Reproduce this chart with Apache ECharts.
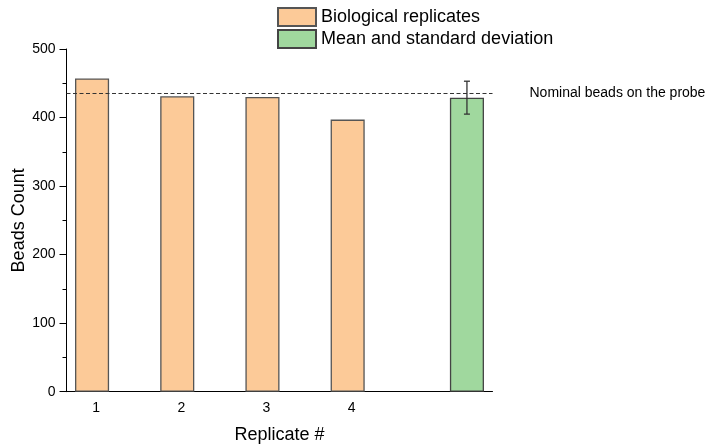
<!DOCTYPE html>
<html><head><meta charset="utf-8">
<script src="https://cdn.jsdelivr.net/npm/echarts@6/dist/echarts.min.js"></script>
<style>html,body{margin:0;padding:0;background:#fff}#c{width:711px;height:445px}</style>
</head><body><div id="c"></div>
<script>
const categories = ['1', '2', '3', '4', ''];
const replicates = [457, 431, 430, 397, null];
const meanValues = [null, null, null, null, 429];
const sdValues = [null, null, null, null, 24];
const nominal = 436;
const yTicks = [0, 100, 200, 300, 400, 500];

const FONT = '"Liberation Sans", Arial, sans-serif';
const chart = echarts.init(document.getElementById('c'), null, {renderer: 'canvas'});
const errData = meanValues.map((v, i) => v == null ? null : [i, v - sdValues[i], v + sdValues[i]]).filter(d => d);

chart.setOption({
  animation: false,
  textStyle: {fontFamily: FONT, color: '#000'},
  grid: {left: 66.5, right: 218.5, top: 49, bottom: 53.3, containLabel: false, outerBoundsMode: 'none'},
  legend: {
    orient: 'vertical', left: 277, top: 7, padding: 0, itemWidth: 38, itemHeight: 18, itemGap: 2,
    icon: 'rect', textStyle: {fontSize: 18, fontFamily: FONT, color: '#000'},
    data: ['Biological replicates', 'Mean and standard deviation']
  },
  xAxis: [{
    type: 'category', data: categories,
    name: 'Replicate #', nameLocation: 'middle', nameGap: 34, nameMoveOverlap: false,
    nameTextStyle: {fontSize: 18, fontFamily: FONT, color: '#000'},
    axisLine: {lineStyle: {color: '#000', width: 1}},
    axisTick: {alignWithLabel: true, length: 6, lineStyle: {color: '#000'}},
    axisLabel: {fontSize: 14, fontFamily: FONT, color: '#000', margin: 9, padding: [0, 26, 0, 0]},
    splitLine: {show: false}
  }, {
    type: 'category', data: categories, position: 'bottom',
    axisLine: {show: false},
    axisTick: {length: 3, lineStyle: {color: '#000'}},
    axisLabel: {show: false}, splitLine: {show: false}
  }],
  yAxis: {
    type: 'value', min: yTicks[0], max: yTicks[yTicks.length - 1], interval: 100,
    name: 'Beads Count', nameLocation: 'middle', nameGap: 38, nameRotate: 90, nameMoveOverlap: false,
    nameTextStyle: {fontSize: 18, fontFamily: FONT, color: '#000'},
    axisLine: {show: true, lineStyle: {color: '#000', width: 1}},
    axisTick: {show: true, length: 7, lineStyle: {color: '#000'}},
    minorTick: {show: true, splitNumber: 2, length: 4, lineStyle: {color: '#000'}},
    axisLabel: {fontSize: 14, fontFamily: FONT, color: '#000', margin: 11},
    splitLine: {show: false}
  },
  series: [{
    name: 'Biological replicates', type: 'bar', data: replicates,
    barWidth: '40%', barGap: '0%',
    itemStyle: {color: '#FCCA98', borderColor: '#555', borderWidth: 1.3},
    markLine: {
      silent: true, symbol: 'none',
      lineStyle: {type: [4, 2.5], color: '#333', width: 1.1},
      label: {show: true, position: 'end', distance: 37, formatter: 'Nominal beads on the probe',
        fontSize: 14, fontFamily: FONT, color: '#000'},
      data: [{yAxis: nominal}]
    }
  }, {
    name: 'Mean and standard deviation', type: 'bar', data: meanValues,
    barWidth: '40%', barGap: '0%',
    itemStyle: {color: '#A0D89E', borderColor: '#444', borderWidth: 1.3}
  }, {
    type: 'custom', name: 'sd', data: errData, z: 10,
    renderItem: function (params, api) {
      const i = api.value(0);
      const lo = api.coord([i, api.value(1)]);
      const hi = api.coord([i, api.value(2)]);
      const off = api.size([1, 0])[0] * 0.2;
      const x = lo[0] + off;
      const cap = 3;
      const st = {stroke: '#333', lineWidth: 1.3};
      return {type: 'group', children: [
        {type: 'line', shape: {x1: x, y1: lo[1], x2: x, y2: hi[1]}, style: st},
        {type: 'line', shape: {x1: x - cap, y1: lo[1], x2: x + cap, y2: lo[1]}, style: st},
        {type: 'line', shape: {x1: x - cap, y1: hi[1], x2: x + cap, y2: hi[1]}, style: st}
      ]};
    }
  }]
});
</script></body></html>
